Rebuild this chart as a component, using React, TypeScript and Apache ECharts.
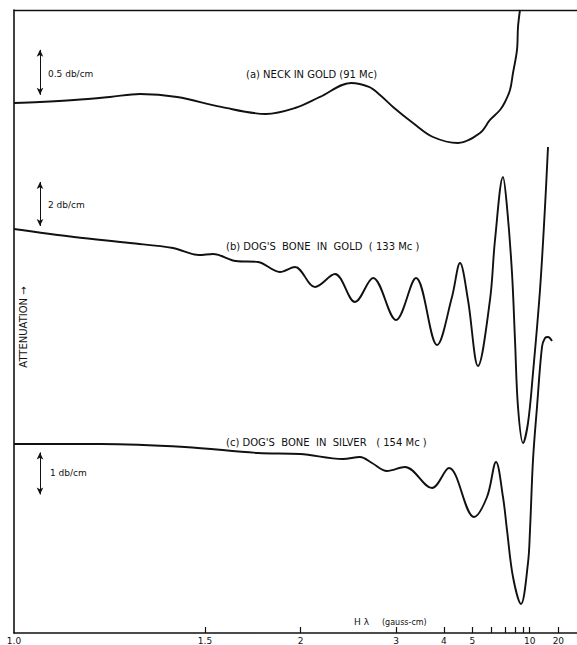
import React, { useEffect, useRef } from "react";
import * as echarts from "echarts";

// Field-strength axis (H·λ, gauss-cm); the plot is linear in 1/H
const X_MIN_H = 1.0;
const X_MAX_H = 57.3;
const TICK_H = [1.5, 2, 3, 4, 5, 6, 7, 8, 9, 10, 20];
const LABEL_H = [1, 1.5, 2, 3, 4, 5, 10, 20];
const LABEL_TEXT = ["1.0", "1.5", "2", "3", "4", "5", "10", "20"];

// (a) Neck in gold (91 Mc) — attenuation change, db/cm
const H_A = [1.0, 1.0475, 1.117, 1.201, 1.282, 1.398, 1.566, 1.785, 1.962, 2.146, 2.428, 2.628, 2.768, 2.954, 3.293, 3.721, 4.442, 5.355, 5.907, 6.586, 6.988, 7.442, 7.743, 8.186, 8.304, 8.552];
const DB_A = [0, 0.011, 0.033, 0.067, 0.1, 0.067, -0.044, -0.122, -0.056, 0.067, 0.222, 0.178, 0.089, -0.044, -0.222, -0.378, -0.444, -0.333, -0.189, -0.078, 0.011, 0.144, 0.333, 0.589, 0.844, 1.033];

// (b) Dog's bone in gold (133 Mc)
const H_B = [1.0, 1.117, 1.254, 1.384, 1.477, 1.532, 1.632, 1.742, 1.866, 1.962, 2.107, 2.274, 2.47, 2.678, 3.0, 3.351, 3.82, 4.244, 4.512, 4.815, 5.257, 5.907, 6.228, 6.821, 7.163, 7.64, 7.958, 8.304, 8.953, 9.712, 10.611, 12.191, 13.643, 14.692];
const DB_B = [0, -0.364, -0.636, -0.864, -1.182, -1.136, -1.455, -1.5, -1.955, -1.727, -2.636, -2.045, -3.318, -2.227, -4.136, -2.227, -5.273, -3.091, -1.545, -3.227, -6.227, -3.227, -0.5, 2.364, 1.0, -2.0, -5.045, -8.091, -9.727, -8.818, -6.545, -2.773, 1.0, 3.727];

// (c) Dog's bone in silver (154 Mc)
const H_C = [1.0, 1.179, 1.425, 1.742, 1.997, 2.348, 2.524, 2.665, 2.865, 3.148, 3.697, 4.152, 5.071, 5.73, 6.297, 6.821, 7.163, 7.743, 8.682, 9.712, 10.053, 10.611, 11.46, 12.733, 13.643, 14.692, 16.371];
const DB_C = [0, 0, -0.071, -0.214, -0.238, -0.357, -0.31, -0.452, -0.643, -0.548, -1.048, -0.571, -1.738, -1.262, -0.429, -1.262, -2.048, -3.167, -3.81, -2.833, -2.048, -0.381, 0.881, 2.31, 2.524, 2.548, 2.452];

// scale bars (db/cm) for the three traces
const SCALE_BAR_H = 1.0475;
const SCALE_BAR_DB = [0.5, 2, 1];
const SCALE_BAR_START = [0.09, 0.14, -1.2];
const SCALE_BAR_TEXT = ["0.5 db/cm", "2 db/cm", "1 db/cm"];

const TITLES = [
  "(a) NECK IN GOLD (91 Mc)",
  "(b) DOG'S  BONE  IN  GOLD  ( 133 Mc )",
  "(c) DOG'S  BONE  IN  SILVER   ( 154 Mc )",
];

// per-trace vertical ranges (db/cm) so each trace sits at its own height
const Y_MIN = [-5.889, -18.364, -4.5];
const Y_MAX = [1.033, 9.955, 10.333];

const INK = "#111";
const FONT = "DejaVu Sans";

export default function App() {
  const ref = useRef<HTMLDivElement>(null);
  useEffect(() => {
    if (!ref.current) return;
    const chart = echarts.init(ref.current, undefined, { renderer: "svg" });
    const toXY = (hs: number[], ds: number[]) => hs.map((h, i) => [1 / h, ds[i]]);
    const traces = [
      [H_A, DB_A],
      [H_B, DB_B],
      [H_C, DB_C],
    ];
    const series = traces.map(([hs, ds], k) => ({
      type: "line",
      xAxisIndex: 0,
      yAxisIndex: k,
      data: toXY(hs, ds),
      symbol: "none",
      smooth: 0.35,
      silent: true,
      lineStyle: { color: INK, width: 1.9 },
      markLine: {
        silent: true,
        symbol: ["arrow", "arrow"],
        symbolSize: [5, 7],
        lineStyle: { color: INK, width: 1, type: "solid" },
        label: { show: false },
        emphasis: { disabled: true },
        data: [
          [
            { coord: [1 / SCALE_BAR_H, SCALE_BAR_START[k]] },
            { coord: [1 / SCALE_BAR_H, SCALE_BAR_START[k] + SCALE_BAR_DB[k]] },
          ],
        ],
      },
    }));

    const labelFor = (v: number) => {
      const h = 1 / v;
      let best = 0;
      LABEL_H.forEach((lh, i) => {
        if (Math.abs(lh - h) < Math.abs(LABEL_H[best] - h)) best = i;
      });
      return LABEL_TEXT[best];
    };

    const textEl = (text: string, x: number, y: number, size: number, extra: any = {}) => ({
      type: "text",
      x,
      y,
      silent: true,
      ...extra,
      style: {
        text,
        fill: INK,
        font: `${size}px "${FONT}"`,
        textAlign: extra.align || "left",
        textVerticalAlign: "middle",
      },
    });

    chart.setOption({
      animation: false,
      backgroundColor: "#fff",
      grid: { left: 14, right: 0, top: 10, bottom: 12, outerBoundsMode: "none", containLabel: false },
      xAxis: [
        {
          type: "value",
          inverse: true,
          min: 1 / X_MAX_H,
          max: 1 / X_MIN_H,
          axisLine: { show: true, onZero: false, lineStyle: { color: INK, width: 1.6 } },
          axisTick: {
            show: true,
            inside: true,
            length: 6,
            customValues: TICK_H.map((h) => 1 / h),
            lineStyle: { color: INK, width: 1.2 },
          },
          axisLabel: {
            show: true,
            customValues: LABEL_H.map((h) => 1 / h),
            formatter: labelFor,
            fontSize: 9,
            fontFamily: FONT,
            color: INK,
            margin: 3,
          },
          splitLine: { show: false },
        },
        {
          type: "value",
          position: "top",
          inverse: true,
          min: 1 / X_MAX_H,
          max: 1 / X_MIN_H,
          axisLine: { show: true, onZero: false, lineStyle: { color: INK, width: 1.3 } },
          axisTick: { show: false },
          axisLabel: { show: false },
          splitLine: { show: false },
        },
      ],
      yAxis: Y_MIN.map((mn, k) => ({
        type: "value",
        min: mn,
        max: Y_MAX[k],
        show: k === 0,
        axisLine: { show: k === 0, onZero: false, lineStyle: { color: INK, width: 1.6 } },
        axisTick: { show: false },
        axisLabel: { show: false },
        splitLine: { show: false },
      })),
      series,
      graphic: [
        textEl(SCALE_BAR_TEXT[0], 48, 74, 9),
        textEl(SCALE_BAR_TEXT[1], 48, 205, 9),
        textEl(SCALE_BAR_TEXT[2], 50, 473, 9),
        textEl(TITLES[0], 246, 74, 10),
        textEl(TITLES[1], 226, 246, 10),
        textEl(TITLES[2], 226, 442, 10),
        textEl("ATTENUATION \u2192", 23, 327, 10, { rotation: Math.PI / 2, align: "center" }),
        textEl("H \u03bb", 354, 622, 9),
        textEl("(gauss-cm)", 382, 622, 8),
      ],
    });
    return () => chart.dispose();
  }, []);
  return (
    <div
      ref={ref}
      style={{ position: "fixed", left: 0, top: 0, width: 577, height: 645, background: "#fff" }}
    />
  );
}
